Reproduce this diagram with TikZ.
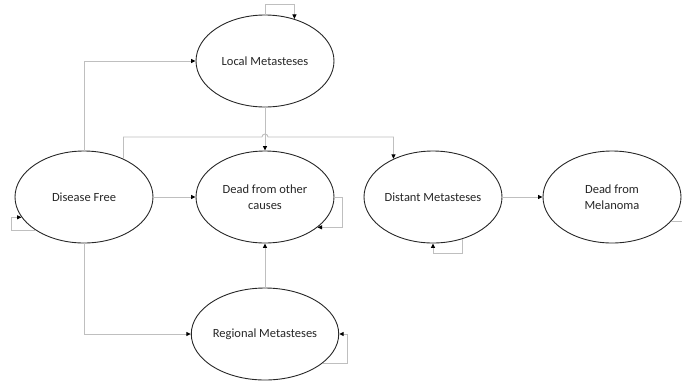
\documentclass[tikz,border=0pt]{standalone}
\usepackage{fontspec}
\setmainfont{Carlito}
\usetikzlibrary{shapes.geometric,arrows.meta}

\begin{document}
\begin{tikzpicture}[x=1pt,y=-1pt,
    state/.style={ellipse, draw=black!85, line width=0.9pt, minimum width=138pt, minimum height=92pt,
        inner sep=0pt, align=center, text=black!85, font=\fontsize{12.5}{15.5}\selectfont},
    link/.style={draw=black!25, line width=0.9pt, -{Triangle[length=4.5pt,width=4pt,color=black]}}]
    \clip (0,0) rectangle (682,381);

    \node[state] (local) at (265,61) {Local Metasteses};
    \node[state] (free) at (84,197) {Disease Free};
    \node[state] (other) at (265,197) {Dead from other\\causes};
    \node[state] (distant) at (433,197) {Distant Metasteses};
    \node[state] (melanoma) at (612,197) {Dead from\\Melanoma};
    \node[state] (regional) at (265,334) {Regional Metasteses};

    % transitions
    \draw[link] (free.north) |- (local.west);
    \draw[link] (local.south) -- (other.north);
    \draw[link] (free.44) |- (262,137) arc[start angle=180, end angle=0, radius=3pt] -| (distant.136);
    \draw[link] (free.east) -- (other.west);
    \draw[link] (free.south) |- (regional.west);
    \draw[link] (regional.north) -- (other.south);
    \draw[link] (distant.east) -- (melanoma.west);

    % self loops
    \draw[link] (local.north) -- ++(0,-10) -| (local.55);
    \draw[link] (free.214) -- ++(-24,0) |- (free.198);
    \draw[link] (other.east) -- ++(8,0) |- (other.330);
    \draw[link] (regional.333) -| ([xshift=8pt]regional.east) -- (regional.east);
    \draw[link] (distant.305) |- ([yshift=-10pt]distant.south) -- (distant.south);
    \draw[draw=black!25, line width=0.9pt] (melanoma.338) -- ++(20,0);
\end{tikzpicture}
\end{document}
